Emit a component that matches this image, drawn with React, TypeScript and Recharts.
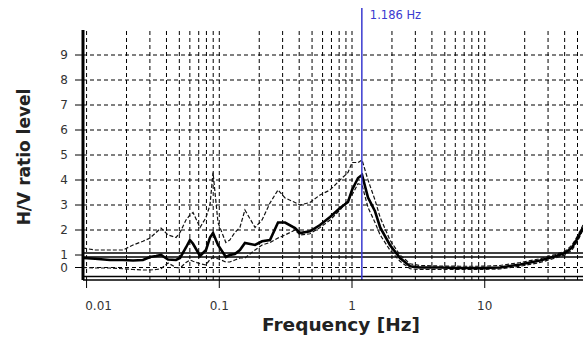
import React from 'react';
import { LineChart, Line, XAxis, YAxis, ReferenceLine } from 'recharts';

// frequencies (Hz)
const freqHz = [
  0.0094, 0.0116, 0.015, 0.0188, 0.0224, 0.0266, 0.0301, 0.0334, 0.0364, 0.0411,
  0.0472, 0.0506, 0.0561, 0.0601, 0.0634, 0.0716, 0.0794, 0.0851, 0.0897, 0.0978,
  0.112, 0.12, 0.131, 0.143, 0.156, 0.186, 0.21, 0.241, 0.277, 0.313,
  0.372, 0.406, 0.482, 0.574, 0.683, 0.812, 0.933, 1.0, 1.11, 1.19,
  1.32, 1.49, 1.63, 1.93, 2.3, 2.74, 3.25, 4.61, 6.51, 9.22,
  13.0, 18.5, 26.1, 33.9, 40.3, 45.5, 50.5, 55.0,
];

// mean H/V curve
const hvMean = [
  0.88, 0.85, 0.8, 0.8, 0.78, 0.8, 0.92, 0.96, 1.0, 0.82,
  0.8, 0.88, 1.3, 1.6, 1.45, 0.96, 1.2, 1.7, 1.88, 1.4,
  0.92, 1.0, 1.04, 1.2, 1.48, 1.4, 1.55, 1.6, 2.3, 2.3,
  2.08, 1.88, 1.95, 2.2, 2.52, 2.88, 3.12, 3.6, 4.08, 4.2,
  3.3, 2.75, 2.1, 1.4, 0.88, 0.55, 0.5, 0.5, 0.48, 0.48,
  0.5, 0.62, 0.78, 0.95, 1.08, 1.3, 1.7, 2.1,
];

// mean + std
const hvUpper = [
  1.28, 1.2, 1.2, 1.2, 1.4, 1.55, 1.68, 1.9, 2.08, 1.8,
  1.7, 1.9, 2.4, 2.6, 2.7, 2.1, 2.5, 3.0, 4.3, 2.3,
  1.5, 1.6, 1.9, 2.1, 2.8, 2.1, 2.4, 3.08, 3.6, 3.28,
  3.1, 3.0, 3.1, 3.4, 3.6, 4.0, 4.3, 4.7, 4.7, 4.8,
  4.0, 3.2, 2.5, 1.6, 1.0, 0.65, 0.58, 0.56, 0.55, 0.55,
  0.58, 0.7, 0.85, 1.02, 1.15, 1.4, 1.8, 2.2,
];

// mean - std
const hvLower = [
  0.5, 0.48, 0.48, 0.45, 0.42, 0.4, 0.4, 0.42, 0.45, 0.68,
  0.5, 0.48, 0.7, 0.8, 0.75, 0.65, 0.6, 0.82, 0.9, 0.85,
  0.72, 0.72, 0.8, 0.88, 0.88, 1.2, 1.4, 1.5, 1.68, 1.8,
  2.0, 1.8, 1.85, 2.1, 2.4, 2.8, 3.2, 3.4, 3.85, 3.8,
  2.9, 2.3, 1.8, 1.2, 0.75, 0.45, 0.42, 0.42, 0.42, 0.42,
  0.44, 0.55, 0.7, 0.88, 1.0, 1.2, 1.6, 2.0,
];

const freqTicks = [0.01, 0.1, 1, 10];
const levelTicks = [0.5, 1, 2, 3, 4, 5, 6, 7, 8, 9];
const levelLabels = ['0', '1', '2', '3', '4', '5', '6', '7', '8', '9'];
const gridDecades = [0.01, 0.1, 1, 10];
const gridSteps = [1, 2, 3, 4, 5, 6, 7, 8, 9];
const gridLevels = [0.5, 2, 3, 4, 5, 6, 7, 8, 9];
const peakFreq = 1.186;

const F_MIN = 0.0094;
const F_MAX = 55;

const rows = freqHz.map((f, i) => ({
  f,
  mean: hvMean[i],
  upper: hvUpper[i],
  lower: hvLower[i],
}));

const gridFreqs = gridDecades
  .flatMap((d) => gridSteps.map((s) => +(d * s).toPrecision(3)))
  .filter((f) => f <= F_MAX);

const FONT = '"DejaVu Sans", Verdana, sans-serif';

const renderFreqTick = (props: any) => {
  const { x, y, payload } = props;
  const shift = payload.value === 0.01 ? 12 : 0;
  return (
    <text x={x + shift} y={y + 19.5} textAnchor="middle" fontSize={12} fontFamily={FONT} fill="#333">
      {payload.value}
    </text>
  );
};

const renderLevelTick = (props: any) => {
  const { x, y, payload } = props;
  const idx = levelTicks.indexOf(payload.value);
  return (
    <text x={x - 5} y={y + 4} textAnchor="end" fontSize={12} fontFamily={FONT} fill="#333">
      {levelLabels[idx]}
    </text>
  );
};

const renderYLabel = () => (
  <text
    x={30}
    y={157}
    transform="rotate(-90 30 157)"
    textAnchor="middle"
    fontSize={17}
    fontWeight="bold"
    fontFamily={FONT}
    fill="#222"
  >
    H/V ratio level
  </text>
);

const renderXLabel = () => (
  <text x={341} y={331} textAnchor="middle" fontSize={18.5} fontWeight="bold" fontFamily={FONT} fill="#222">
    Frequency [Hz]
  </text>
);

const renderPeakLabel = (props: any) => {
  const { viewBox } = props;
  return (
    <text x={viewBox.x + 8} y={viewBox.y + 11} fontSize={11.5} fontFamily={FONT} fill="#3a3ad0">
      {`${peakFreq} Hz`}
    </text>
  );
};

export default function App() {
  return (
    <div style={{ position: 'absolute', left: 0, top: 0, width: 583, height: 352, background: '#fff' }}>
      <LineChart width={583} height={352} data={rows} margin={{ top: 8, right: 0, left: 0, bottom: 0 }}>
        <XAxis
          dataKey="f"
          type="number"
          scale="log"
          domain={[F_MIN, F_MAX]}
          allowDataOverflow
          ticks={freqTicks}
          interval={0}
          height={72}
          tickSize={8}
          tickLine={{ stroke: '#000' }}
          axisLine={{ stroke: '#000', strokeWidth: 1.6 }}
          tick={renderFreqTick}
          label={{ content: renderXLabel }}
        />
        <YAxis
          type="number"
          domain={[0, 10.88]}
          allowDataOverflow
          ticks={levelTicks}
          interval={0}
          width={83}
          tickSize={8}
          axisLine={false}
          tickLine={{ stroke: '#000' }}
          tick={renderLevelTick}
          label={{ content: renderYLabel }}
        />

        {gridFreqs.map((f) => (
          <ReferenceLine
            key={`v${f}`}
            segment={[{ x: f, y: 0 }, { x: f, y: 10 }]}
            stroke="#000"
            strokeWidth={1}
            strokeDasharray="4 3"
          />
        ))}
        {gridLevels.map((v) => (
          <ReferenceLine
            key={`h${v}`}
            segment={[{ x: F_MIN, y: v }, { x: F_MAX, y: v }]}
            stroke="#000"
            strokeWidth={1}
            strokeDasharray="4 3"
          />
        ))}

        <ReferenceLine y={1.08} stroke="#000" strokeWidth={1.6} />
        <ReferenceLine y={0.92} stroke="#000" strokeWidth={1.6} />
        <ReferenceLine y={0.14} stroke="#000" strokeWidth={1.4} />
        <ReferenceLine segment={[{ x: F_MIN, y: 0 }, { x: F_MIN, y: 10 }]} stroke="#000" strokeWidth={3} />

        <Line type="linear" dataKey="upper" stroke="#111" strokeWidth={1.2} strokeDasharray="4 2" dot={false} isAnimationActive={false} />
        <Line type="linear" dataKey="lower" stroke="#111" strokeWidth={1.2} strokeDasharray="4 2" dot={false} isAnimationActive={false} />
        <Line type="linear" dataKey="mean" stroke="#000" strokeWidth={2.6} dot={false} isAnimationActive={false} />

        <ReferenceLine x={peakFreq} stroke="#3a3ad0" strokeWidth={1.5} label={{ content: renderPeakLabel }} />
      </LineChart>
    </div>
  );
}
